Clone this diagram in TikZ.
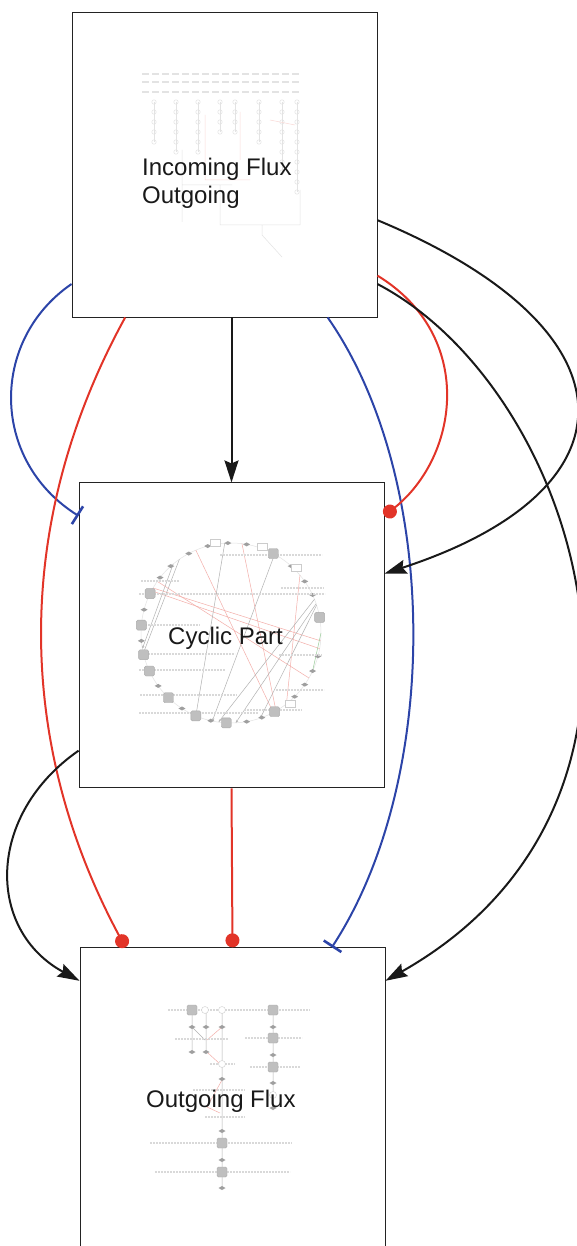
\documentclass[tikz,border=0pt]{standalone}
\usepackage{fontspec}
\setmainfont{Liberation Sans}
\usetikzlibrary{arrows.meta, positioning}

\definecolor{fluxred}{RGB}{226,52,40}
\definecolor{fluxblue}{RGB}{44,68,168}
\definecolor{framegray}{RGB}{35,35,35}

\tikzset{
  module_box/.style={rectangle, draw=framegray, line width=0.9pt, minimum width=305pt, minimum height=305pt, inner sep=0pt, fill=white},
  label_text/.style={font=\fontsize{24}{28}\selectfont, inner sep=0pt, text=black!90, align=left},
  activate/.style={-{Stealth[length=22pt, width=14pt, inset=3pt]}, line width=2pt, black!90},
  promote/.style={-{Circle[length=14pt]}, line width=2pt, fluxred},
  inhibit/.style={-{Bar[width=21pt, line width=2.6pt]}, line width=2pt, fluxblue},
  sk_line/.style={gray!60, line width=0.5pt},
  sk_faint/.style={gray!22, line width=0.5pt},
  sk_red/.style={fluxred!40, line width=0.5pt},
  sk_text/.style={gray!30, line width=1.3pt, dash pattern=on 2.2pt off 0.8pt},
  sk_square/.style={fill=gray!50, draw=gray!65, line width=0.4pt, rounded corners=1.5pt},
  sk_dot/.style={fill=gray!75},
  sk_open/.style={fill=white, draw=gray!40, line width=0.4pt}
}

\begin{document}
\begin{tikzpicture}[x=1pt, y=-1pt]
  \useasboundingbox (0,0) rectangle (576,1246);

  % Modules
  \node (inflow) [module_box] at (224.5,164.5) {};
  \node (cyclic) [module_box, below=165pt of inflow, xshift=7pt] {};
  \node (outflow) [module_box, below=159pt of cyclic, xshift=1pt] {};

  % Incoming flux sketch
  \foreach \y in {74, 82, 92}
    \draw [sk_faint, line width=1.2pt, dash pattern=on 7pt off 3pt] (142,\y) -- (300,\y);
  \foreach \x/\n in {154/4, 176/5, 198/5, 220/3, 235/3, 259/4, 282/7, 297/9} {
    \draw [sk_faint] (\x,102) -- (\x,102+10*\n);
    \foreach \k in {0,...,\n}
      \draw [sk_faint] (\x,102+10*\k) circle (2.2);
  }
  \draw [sk_faint] (182,150) -- (182,222) (182,185) -- (232,185)
    (220,185) -- (220,225) -- (300,225) (300,190) -- (300,225)
    (262,225) -- (262,235) -- (282,257);
  \draw [fluxred!18, line width=0.5pt] (205,115) -- (205,180) -- (250,180) (240,112) -- (240,160)
    (270,120) -- (295,125);

  % Cyclic part sketch
  \begin{scope}[shift={(231,633)}, y=1pt]
    \draw [sk_faint] (0,0) circle (90);
    \foreach \a/\b in {145/330, 152/350, 113/298, 83/300, 40/308, 150/355}
      \draw [sk_red] (\a:90) -- (\b:90);
    \foreach \a/\b in {94/247, 125/193, 130/190, 61/258, 22/262, 19/273, 18/289}
      \draw [sk_line, -{Stealth[length=3pt]}] (\a:90) -- (\b:90);
    \draw [green!50!black!40, line width=0.5pt] (0:90) -- (335:90);
    \foreach \a in {80, 92, 105, 118, 132, 142, 165, 185, 216, 237, 257, 280, 290, 315, 325, 335, 345, 25, 35, 48}
      \fill [sk_dot, shift={(\a:90)}] (-3.5,0) -- (0,2) -- (3.5,0) -- (0,-2) -- cycle;
    \foreach \a in {100, 70, 45, 310}
      \filldraw [sk_open, shift={(\a:92)}] (-5,-3.5) rectangle (5,3.5);
  \end{scope}
  \foreach \y/\xa/\xb in {555/220/322, 581/141/179, 588/281/324, 594/139/325, 625/139/200,
                          654/139/235, 655/279/322, 670/139/225, 690/276/324, 695/140/237,
                          710/244/302, 713/139/258}
    \draw [sk_text] (\xa,\y) -- (\xb,\y);
  \foreach \a in {62, 154, 175, 194, 205, 226, 247, 267, 299, 10}
    \filldraw [sk_square, shift={(231,633)}, y=1pt, shift={(\a:90)}] (-5,-5) rectangle (5,5);

  % Outgoing flux sketch
  \draw [sk_line] (192,1010) -- (192,1052) (206,1010) -- (206,1052)
    (222,1010) -- (222,1188) (273,1010) -- (273,1110) (192,1027) -- (205,1040);
  \draw [sk_red] (222,1027) -- (207,1040) (208,1053) -- (220,1064)
    (222,1080) -- (207,1107) -- (220,1113);
  \foreach \y/\xa/\xb in {1010/168/310, 1039/175/228, 1038/245/302, 1064/210/235,
                          1067/250/300, 1090/193/245, 1117/205/245, 1143/150/292, 1172/155/290}
    \draw [sk_text] (\xa,\y) -- (\xb,\y);
  \foreach \x/\y in {192/1027, 206/1027, 222/1027, 273/1027, 192/1052, 206/1052, 273/1055,
                     222/1079, 273/1083, 222/1131, 222/1160, 222/1188, 273/1108}
    \fill [sk_dot] (\x-3.5,\y) -- (\x,\y-2) -- (\x+3.5,\y) -- (\x,\y+2) -- cycle;
  \foreach \x/\y in {192/1010, 273/1010, 273/1038, 273/1067, 222/1143, 222/1172}
    \filldraw [sk_square] (\x-5,\y-5) rectangle (\x+5,\y+5);
  \foreach \x/\y in {205/1010, 222/1010, 222/1064, 273/1095}
    \filldraw [sk_open] (\x,\y) circle (3.5);

  % Labels
  \node (inflow_lbl) [label_text, anchor=north west] at (142,158) {Incoming Flux\\Outgoing};
  \node (cyclic_lbl) [label_text, anchor=base west] at (168,644) {Cyclic Part};
  \node (outflow_lbl) [label_text, anchor=base west] at (146,1107) {Outgoing Flux};

  % Interactions
  \draw [activate] (inflow.south -| cyclic.north) -- (cyclic.north);
  \draw [promote] (cyclic.south) -- (outflow.north);
  \draw [inhibit] (inflow.218) .. controls (-10,340) and (-10,460) .. (cyclic.142);
  \draw [promote] (inflow.237) .. controls (14,520) and (14,740) .. (outflow.125);
  \draw [inhibit] (inflow.304) .. controls (441,480) and (441,780) .. (outflow.57);
  \draw [promote] (inflow.324) .. controls (475,335) and (460,455) .. (cyclic.38);
  \draw [activate] (inflow.340) .. controls (641,330) and (641,490) .. (cyclic.22);
  \draw [activate] (inflow.322) .. controls (580,390) and (705,800) .. (outflow.38);
  \draw [activate] (cyclic.217) .. controls (-14,815) and (-14,930) .. (outflow.142);
\end{tikzpicture}
\end{document}
